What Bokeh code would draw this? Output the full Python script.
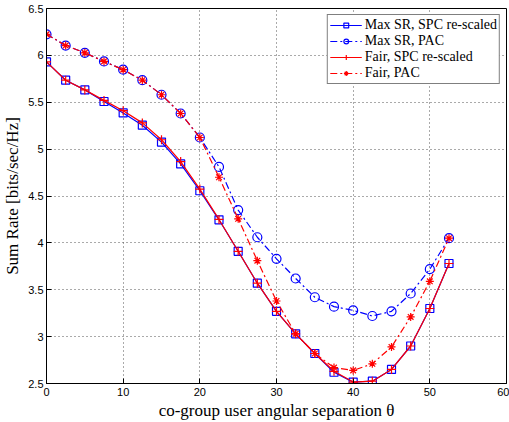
from bokeh.plotting import figure
from bokeh.models import Legend, LegendItem, Range1d, FixedTicker
from bokeh.embed import file_html
from bokeh.resources import INLINE

theta = [0, 2.5, 5, 7.5, 10, 12.5, 15, 17.5, 20, 22.5, 25, 27.5, 30, 32.5, 35,
         37.5, 40, 42.5, 45, 47.5, 50, 52.5]
maxsr_spc = [5.93, 5.735, 5.632, 5.508, 5.386, 5.255, 5.075, 4.842, 4.556, 4.246, 3.91,
             3.57, 3.27, 3.03, 2.82, 2.62, 2.515, 2.525, 2.65, 2.90, 3.30, 3.78]
maxsr_pac = [6.225, 6.105, 6.027, 5.936, 5.847, 5.735, 5.58, 5.38, 5.124, 4.81, 4.35,
             4.06, 3.83, 3.62, 3.42, 3.32, 3.28, 3.22, 3.27, 3.46, 3.72, 4.05]
fair_spc = [5.93, 5.735, 5.632, 5.52, 5.41, 5.28, 5.10, 4.867, 4.574, 4.25, 3.91,
            3.57, 3.27, 3.03, 2.82, 2.63, 2.515, 2.525, 2.65, 2.90, 3.30, 3.78]
fair_pac = [6.225, 6.105, 6.027, 5.936, 5.847, 5.735, 5.58, 5.38, 5.124, 4.70, 4.257,
            3.81, 3.38, 3.03, 2.82, 2.67, 2.64, 2.71, 2.89, 3.21, 3.59, 4.05]

series_labels = ["Max SR, SPC re-scaled", "Max SR, PAC", "Fair, SPC re-scaled", "Fair, PAC"]
x_ticks = [0, 10, 20, 30, 40, 50, 60]
y_ticks = [2.5, 3, 3.5, 4, 4.5, 5, 5.5, 6, 6.5]
y_tick_labels = ["2.5", "3", "3.5", "4", "4.5", "5", "5.5", "6", "6.5"]
x_label = "co-group user angular separation θ"
y_label = "Sum Rate [bits/sec/Hz]"

p = figure(width=509, height=422, output_backend="svg", toolbar_location=None,
           x_range=Range1d(0, 60), y_range=Range1d(2.5, 6.5),
           min_border_left=46, min_border_right=3, min_border_top=8, min_border_bottom=36)
p.background_fill_color = "white"
p.border_fill_color = "white"
p.outline_line_color = "black"
p.outline_line_width = 1
p.outline_line_alpha = 1

for ax in (p.xaxis[0], p.yaxis[0]):
    ax.major_tick_in = 5
    ax.major_tick_out = 0
    ax.minor_tick_in = 0
    ax.minor_tick_out = 0
    ax.axis_line_color = "black"
    ax.major_tick_line_color = "black"
    ax.major_label_text_font = "Liberation Sans"
    ax.major_label_text_font_size = "11px"
    ax.major_label_text_color = "black"
    ax.axis_label_text_font = "Liberation Serif"
    ax.axis_label_text_font_size = "17px"
    ax.axis_label_text_font_style = "normal"
    ax.axis_label_text_color = "black"

p.xaxis.ticker = FixedTicker(ticks=x_ticks)
p.yaxis.ticker = FixedTicker(ticks=y_ticks)
p.yaxis.major_label_overrides = {t: l for t, l in zip(y_ticks, y_tick_labels)}
p.xaxis.axis_label = x_label
p.yaxis.axis_label = y_label
p.xaxis.major_label_standoff = 4
p.xaxis.axis_label_standoff = 2
p.yaxis.major_label_standoff = 3
p.yaxis.axis_label_standoff = 3

p.xgrid.ticker = FixedTicker(ticks=x_ticks)
p.ygrid.ticker = FixedTicker(ticks=y_ticks)
for g in (p.xgrid[0], p.ygrid[0]):
    g.grid_line_color = "#555555"
    g.grid_line_dash = "1 3"
    g.grid_line_width = 1

blue = "#0000ff"
red = "#ff0000"
dashdot = "7 3 2 3"

l1 = p.line(theta, maxsr_spc, line_color=blue, line_width=1.2)
m1 = p.scatter(theta, maxsr_spc, marker="square", size=8, line_color=blue,
               fill_color=None, line_width=1.2)
l2 = p.line(theta, maxsr_pac, line_color=blue, line_width=1.2, line_dash=dashdot)
m2 = p.scatter(theta, maxsr_pac, marker="circle", size=9, line_color=blue,
               fill_color=None, line_width=1.2)
l3 = p.line(theta, fair_spc, line_color=red, line_width=1.2)
m3 = p.scatter(theta, fair_spc, marker="cross", size=9, line_color=red, line_width=1.2)
l4 = p.line(theta, fair_pac, line_color=red, line_width=1.2, line_dash=dashdot)
m4 = p.scatter(theta, fair_pac, marker="asterisk", size=8, line_color=red, line_width=1.2)

legend = Legend(items=[
    LegendItem(label=series_labels[0], renderers=[l1, m1]),
    LegendItem(label=series_labels[1], renderers=[l2, m2]),
    LegendItem(label=series_labels[2], renderers=[l3, m3]),
    LegendItem(label=series_labels[3], renderers=[l4, m4]),
], location="top_right")
legend.margin = 6
legend.padding = 2
legend.spacing = 0
legend.glyph_width = 32
legend.glyph_height = 12
legend.label_height = 12
legend.label_standoff = 3
legend.label_text_font = "Liberation Serif"
legend.label_text_font_size = "14px"
legend.label_text_color = "black"
legend.border_line_color = "black"
legend.border_line_width = 1.5
legend.background_fill_alpha = 1
p.add_layout(legend)

open("out.html", "w").write(file_html(p, INLINE))
